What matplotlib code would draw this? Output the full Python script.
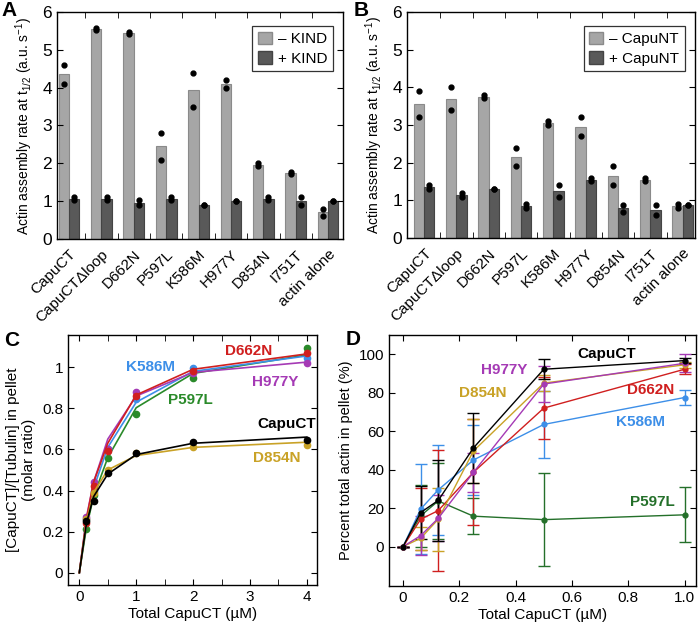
import numpy as np
import matplotlib
matplotlib.use("Agg")
import matplotlib.pyplot as plt
from matplotlib.patches import Patch
from matplotlib.ticker import FixedLocator, FuncFormatter

plt.rcParams["font.family"] = ["Liberation Sans", "DejaVu Sans"]
plt.rcParams["mathtext.fontset"] = "custom"
plt.rcParams["mathtext.rm"] = "Liberation Sans"
plt.rcParams["axes.linewidth"] = 1.0

# ---- data: bar panels (A, B) ----
mutants = ["CapuCT", "CapuCT\u0394loop", "D662N", "P597L", "K586M",
           "H977Y", "D854N", "I751T", "actin alone"]

a_minus = [4.35, 5.55, 5.45, 2.45, 3.95, 4.1, 1.95, 1.75, 0.7]
a_minus_pts = [(4.6, 4.1), (5.58, 5.52), (5.48, 5.42), (2.8, 2.1), (4.4, 3.5),
               (4.2, 4.0), (2.0, 1.92), (1.78, 1.72), (0.8, 0.61)]
a_plus = [1.05, 1.05, 0.95, 1.05, 0.9, 1.0, 1.05, 1.0, 1.0]
a_plus_pts = [(1.11, 1.03), (1.11, 1.03), (1.02, 0.91), (1.11, 1.03), (0.9, 0.9),
              (1.0, 1.0), (1.11, 1.03), (1.11, 0.9), (1.0, 1.0)]

b_minus = [3.55, 3.7, 3.75, 2.15, 3.05, 2.95, 1.65, 1.55, 0.85]
b_minus_pts = [(3.9, 3.2), (4.0, 3.4), (3.79, 3.71), (2.4, 1.9), (3.1, 3.0),
               (3.2, 2.7), (1.9, 1.4), (1.6, 1.5), (0.89, 0.8)]
b_plus = [1.35, 1.15, 1.3, 0.85, 1.25, 1.55, 0.8, 0.75, 0.88]
b_plus_pts = [(1.4, 1.3), (1.2, 1.1), (1.3, 1.3), (0.89, 0.8), (1.4, 1.1),
              (1.6, 1.5), (0.88, 0.7), (0.88, 0.6), (0.88, 0.88)]

# ---- data: panel C (binding to microtubules) ----
c_x = [0, 0.125, 0.25, 0.5, 1, 2, 4]
c_pts = {
    "CapuCT": [0, 0.25, 0.35, 0.487, 0.584, 0.635, 0.646],
    "D854N":  [0, 0.26, 0.39, 0.50, 0.585, 0.61, 0.62],
    "K586M":  [0, 0.26, 0.40, 0.60, 0.844, 0.998, 1.044],
    "D662N":  [0, 0.24, 0.42, 0.59, 0.86, 0.98, 1.068],
    "H977Y":  [0, 0.27, 0.44, 0.60, 0.881, 0.971, 1.022],
    "P597L":  [0, 0.215, 0.38, 0.56, 0.773, 0.946, 1.095],
}
c_fit = {
    "CapuCT": [0, 0.24, 0.37, 0.48, 0.575, 0.63, 0.66],
    "D854N":  [0, 0.25, 0.39, 0.50, 0.57, 0.61, 0.635],
    "K586M":  [0, 0.25, 0.41, 0.61, 0.83, 0.98, 1.055],
    "D662N":  [0, 0.26, 0.44, 0.63, 0.865, 0.99, 1.065],
    "H977Y":  [0, 0.27, 0.44, 0.65, 0.86, 0.975, 1.025],
    "P597L":  [0, 0.22, 0.37, 0.56, 0.803, 0.97, 1.06],
}

# ---- data: panel D (actin bundling) ----
d_x = [0, 0.0625, 0.125, 0.25, 0.5, 1.0]
d_mean = {
    "P597L":  [0, 16, 23.7, 15.8, 14, 16.5],
    "K586M":  [0, 19.5, 29.5, 45, 63.5, 77.5],
    "D662N":  [0, 14.2, 18.7, 38.6, 72, 92.2],
    "D854N":  [0, 4.3, 14.2, 49.7, 85, 94.5],
    "H977Y":  [0, 5.7, 14.7, 38.6, 84.5, 95.3],
    "CapuCT": [0, 17.7, 24, 51.3, 92.2, 96.7],
}
d_err = {
    "P597L":  [0, 16, 20, 9.3, 24, 14.3],
    "K586M":  [0, 23.5, 23.5, 18, 17.5, 4],
    "D662N":  [0, 16, 31.5, 27.5, 16, 2.6],
    "D854N":  [0, 6, 16.5, 16.5, 4, 1.5],
    "H977Y":  [0, 10, 12, 10, 9.5, 4.7],
    "CapuCT": [0, 14, 21, 18, 5.2, 1.2],
}

colors_c = {"CapuCT": "black", "D854N": "#c9a227", "K586M": "#3d8fe8",
            "D662N": "#d01f1f", "H977Y": "#a53ab5", "P597L": "#2a8a2a"}
colors_d = dict(colors_c, P597L="#24702a")

fig = plt.figure(figsize=(7, 6.22), dpi=100)

ax_a = fig.add_axes([0.0814, 0.6158, 0.4086, 0.3649])
ax_b = fig.add_axes([0.5814, 0.6174, 0.4116, 0.3633])
ax_c = fig.add_axes([0.0971, 0.0595, 0.3558, 0.4019])
ax_d = fig.add_axes([0.5557, 0.0579, 0.4383, 0.4035])

light = "#a6a6a6"
dark = "#595959"
w = 0.32


def bar_panel(ax, minus, minus_pts, plus, plus_pts, leg_names, xlim):
    x = np.arange(len(mutants))
    ax.bar(x - w / 2, minus, w, color=light, edgecolor="#8a8a8a", linewidth=0.8)
    ax.bar(x + w / 2, plus, w, color=dark, edgecolor="#444444", linewidth=0.8)
    for i in range(len(mutants)):
        ax.plot([x[i] - w / 2] * 2, minus_pts[i], "o", color="black", ms=3.5)
        ax.plot([x[i] + w / 2] * 2, plus_pts[i], "o", color="black", ms=3.5)
    ax.set_xlim(*xlim)
    ax.set_ylim(0, 6)
    ax.set_yticks(range(7))
    ax.set_xticks(x)
    ax.set_xticklabels(mutants, rotation=45, ha="right", rotation_mode="anchor",
                       fontsize=11)
    ax.xaxis.set_minor_locator(FixedLocator(x[:-1] + 0.5))
    ax.tick_params(axis="x", which="major", length=0, pad=6)
    ax.tick_params(axis="x", which="minor", direction="in", length=4.5,
                   top=True, bottom=True)
    ax.tick_params(axis="y", direction="in", length=4.5, right=True,
                   labelsize=12.5)
    ax.set_ylabel("Actin assembly rate at t$\\mathregular{_{1/2}}$ "
                  "(a.u. s$\\mathregular{^{-1}}$)", fontsize=10, labelpad=5)
    handles = [Patch(facecolor=light, edgecolor="#8a8a8a", label=leg_names[0]),
               Patch(facecolor=dark, edgecolor="#444444", label=leg_names[1])]
    leg = ax.legend(handles=handles, loc="upper right", fontsize=11,
                    fancybox=False, edgecolor="black", handlelength=0.9,
                    handleheight=0.9, handletextpad=0.4, borderpad=0.35,
                    labelspacing=0.3, bbox_to_anchor=(0.99, 0.97))
    leg.get_frame().set_linewidth(0.9)


bar_panel(ax_a, a_minus, a_minus_pts, a_plus, a_plus_pts,
          ["\u2013 KIND", "+ KIND"], (-0.37, 8.46))
bar_panel(ax_b, b_minus, b_minus_pts, b_plus, b_plus_pts,
          ["\u2013 CapuNT", "+ CapuNT"], (-0.53, 8.38))

# panel C: fitted curves as lines, measured points as dots (no dot at origin)
for name in ["P597L", "K586M", "H977Y", "D662N", "D854N", "CapuCT"]:
    ax_c.plot(c_x, c_fit[name], "-", color=colors_c[name], lw=1.2)
    ax_c.plot(c_x[1:], c_pts[name][1:], "o", color=colors_c[name], ms=4.5)
ax_c.set_xlim(-0.2, 4.18)
ax_c.set_ylim(-0.06, 1.157)
ax_c.set_xticks([0, 1, 2, 3, 4])
ax_c.xaxis.set_minor_locator(FixedLocator([0.5, 1.5, 2.5, 3.5]))
ax_c.set_yticks([0, 0.2, 0.4, 0.6, 0.8, 1.0])
ax_c.yaxis.set_major_formatter(FuncFormatter(lambda v, p: "%g" % v))
ax_c.tick_params(which="both", direction="in", length=4.5, top=True, right=True,
                 labelsize=11)
ax_c.set_xlabel("Total CapuCT (\u00b5M)", fontsize=11, labelpad=2)
ax_c.set_ylabel("[CapuCT]/[Tubulin] in pellet\n(molar ratio)", fontsize=11)

c_labels = [("D662N", 2.97, 1.08), ("K586M", 1.26, 1.0), ("H977Y", 3.44, 0.93),
            ("P597L", 1.95, 0.84), ("CapuCT", 3.64, 0.724), ("D854N", 3.47, 0.557)]
for name, lx, ly in c_labels:
    ax_c.text(lx, ly, name, color=colors_c[name], fontsize=11, fontweight="bold",
              ha="center", va="center")

# panel D
for name in ["P597L", "K586M", "D662N", "D854N", "H977Y", "CapuCT"]:
    ax_d.errorbar(d_x, d_mean[name], yerr=d_err[name], color=colors_d[name],
                  marker="o", ms=3.5, lw=1.0, elinewidth=1.0, capsize=4,
                  capthick=1.0)
ax_d.set_xlim(-0.05, 1.04)
ax_d.set_ylim(-20.5, 110)
ax_d.set_xticks([0, 0.2, 0.4, 0.6, 0.8, 1.0])
ax_d.xaxis.set_major_formatter(FuncFormatter(
    lambda v, p: "0" if v == 0 else ("%.1f" % v)))
ax_d.set_yticks([0, 20, 40, 60, 80, 100])
ax_d.tick_params(direction="in", length=4.5, top=True, right=True, labelsize=11)
ax_d.set_xlabel("Total CapuCT (\u00b5M)", fontsize=11, labelpad=2)
ax_d.set_ylabel("Percent total actin in pellet (%)", fontsize=10.5)

d_labels = [("CapuCT", 0.725, 100), ("H977Y", 0.36, 91.8), ("D854N", 0.283, 79.7),
            ("D662N", 0.879, 81.4), ("K586M", 0.843, 65), ("P597L", 0.884, 23.4)]
for name, lx, ly in d_labels:
    ax_d.text(lx, ly, name, color=colors_d[name], fontsize=11, fontweight="bold",
              ha="center", va="center")

# panel letters
for letter, px, py in [("A", 1, 1), ("B", 354, 1), ("C", 4, 331), ("D", 346, 330)]:
    fig.text(px / 700, 1 - py / 622, letter, fontsize=15, fontweight="bold",
             ha="left", va="top")

fig.savefig("out.png", dpi=100)
